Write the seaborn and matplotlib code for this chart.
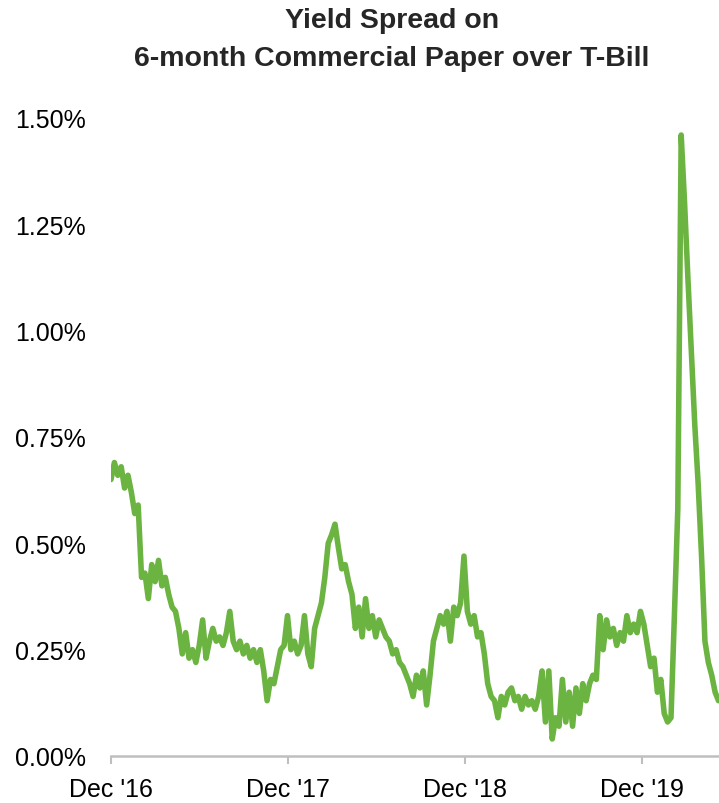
import pandas as pd
import matplotlib
matplotlib.use("Agg")
import matplotlib.pyplot as plt
import matplotlib.dates as mdates
from matplotlib.ticker import PercentFormatter
import seaborn as sns

# weekly observations starting Dec 1, 2016 (spread in percentage points)
start_date = "2016-12-01"
spread = [
    0.65, 0.69, 0.66, 0.68, 0.63, 0.66, 0.62, 0.57, 0.59, 0.42,
    0.43, 0.37, 0.45, 0.41, 0.46, 0.40, 0.42, 0.38, 0.35, 0.34,
    0.30, 0.24, 0.29, 0.23, 0.25, 0.22, 0.26, 0.32, 0.23, 0.27,
    0.30, 0.27, 0.28, 0.26, 0.29, 0.34, 0.27, 0.25, 0.27, 0.24,
    0.26, 0.23, 0.25, 0.22, 0.25, 0.20, 0.13, 0.18, 0.17, 0.21,
    0.25, 0.26, 0.33, 0.25, 0.27, 0.24, 0.26, 0.33, 0.24, 0.21,
    0.30, 0.33, 0.36, 0.42, 0.50, 0.52, 0.545, 0.49, 0.44, 0.45,
    0.41, 0.38, 0.30, 0.35, 0.28, 0.37, 0.30, 0.33, 0.28, 0.32,
    0.30, 0.28, 0.27, 0.24, 0.25, 0.22, 0.21, 0.19, 0.17, 0.14,
    0.19, 0.16, 0.20, 0.12, 0.19, 0.27, 0.30, 0.33, 0.31, 0.34,
    0.27, 0.35, 0.33, 0.36, 0.47, 0.34, 0.31, 0.33, 0.28, 0.29,
    0.24, 0.17, 0.14, 0.13, 0.09, 0.14, 0.12, 0.15, 0.16, 0.13,
    0.14, 0.11, 0.14, 0.12, 0.13, 0.11, 0.14, 0.20, 0.08, 0.20,
    0.04, 0.09, 0.07, 0.18, 0.08, 0.15, 0.07, 0.16, 0.10, 0.17,
    0.13, 0.17, 0.19, 0.18, 0.33, 0.25, 0.32, 0.28, 0.30, 0.26,
    0.29, 0.27, 0.33, 0.29, 0.31, 0.29, 0.34, 0.31, 0.26, 0.21,
    0.23, 0.15, 0.18, 0.10, 0.08, 0.09, 0.33, 0.58, 1.46, 1.30,
    1.12, 0.95, 0.78, 0.64, 0.47, 0.27, 0.22, 0.19, 0.15, 0.13,
]
tick_dates = ["2016-12-01", "2017-12-01", "2018-12-01", "2019-12-01"]
tick_labels = ["Dec '16", "Dec '17", "Dec '18", "Dec '19"]
title_lines = ["Yield Spread on", "6-month Commercial Paper over T-Bill"]

df = pd.DataFrame({
    "date": pd.date_range(start_date, periods=len(spread), freq="7D"),
    "spread": spread,
})

sns.set_style("white")
plt.rcParams['font.family'] = ['Liberation Sans', 'DejaVu Sans']

fig = plt.figure(figsize=(7.19, 8.04), dpi=100)
ax = fig.add_axes([111 / 719, 47 / 804, 608 / 719, 638 / 804])

sns.lineplot(data=df, x="date", y="spread", ax=ax, color='#6cb441',
             linewidth=4.0, solid_joinstyle='round', solid_capstyle='round')

ax.set_xlim(df["date"].iloc[0], df["date"].iloc[-1] + pd.Timedelta(days=1))
ax.set_ylim(0, 1.5)
ax.set_yticks([0, 0.25, 0.5, 0.75, 1.0, 1.25, 1.5])
ax.yaxis.set_major_formatter(PercentFormatter(xmax=100, decimals=2))
ax.set_xticks(mdates.date2num(pd.to_datetime(tick_dates)))
ax.set_xticklabels(tick_labels)

ax.set_xlabel('')
ax.set_ylabel('')
for side in ['top', 'right', 'left']:
    ax.spines[side].set_visible(False)
ax.spines['bottom'].set_color('#bfbfbf')
ax.spines['bottom'].set_linewidth(1.8)
ax.tick_params(axis='x', direction='out', length=6, width=1.5, color='#bfbfbf',
               labelsize=18, pad=9, labelcolor='black', bottom=True)
ax.tick_params(axis='y', length=0, labelsize=18, pad=18, labelcolor='black')
ax.grid(False)

# two title lines placed by baseline
fig.text(392 / 719, 1 - 28 / 804, title_lines[0], ha='center', va='baseline',
         fontsize=20.5, fontweight='bold')
fig.text(392 / 719, 1 - 66 / 804, title_lines[1], ha='center', va='baseline',
         fontsize=20.5, fontweight='bold')

plt.savefig('out.png', dpi=100)
plt.close()
